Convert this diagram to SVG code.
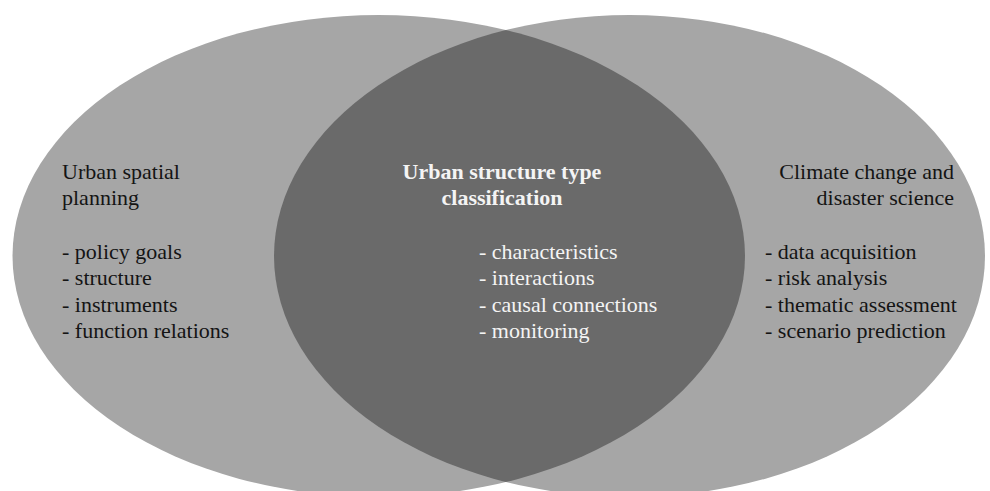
<svg xmlns="http://www.w3.org/2000/svg" width="990" height="491" viewBox="0 0 990 491">
  <style>
    .set { fill: #a6a6a6; }
    .lens { fill: #6a6a6a; }
    .t { font-family: "Liberation Serif", "Times New Roman", serif; font-size: 22px; fill: #141414; }
    .w { fill: #f4f4f4; }
    .b { font-weight: bold; }
  </style>
  <defs>
    <clipPath id="clipLeft">
      <ellipse cx="378.75" cy="256" rx="366.25" ry="241"/>
    </clipPath>
  </defs>
  <rect width="990" height="491" fill="#ffffff"/>
  <g id="left-set">
    <ellipse class="set" cx="378.75" cy="256" rx="366.25" ry="241"/>
  </g>
  <g id="right-set">
    <ellipse class="set" cx="629.5" cy="256" rx="355.5" ry="241"/>
  </g>
  <g id="overlap">
    <ellipse class="lens" cx="629.5" cy="256" rx="355.5" ry="241" clip-path="url(#clipLeft)"/>
  </g>
  <g id="connectors"></g>
  <g id="left-text">
    <text class="t" x="62" y="178.5">Urban spatial</text>
    <text class="t" x="62" y="205">planning</text>
    <text class="t" x="62" y="258.5">- policy goals</text>
    <text class="t" x="62" y="285">- structure</text>
    <text class="t" x="62" y="311.5">- instruments</text>
    <text class="t" x="62" y="338">- function relations</text>
  </g>
  <g id="center-text">
    <text class="t w b" x="502" y="178.5" text-anchor="middle">Urban structure type</text>
    <text class="t w b" x="502" y="205" text-anchor="middle">classification</text>
    <text class="t w" x="479" y="258.5">- characteristics</text>
    <text class="t w" x="479" y="285">- interactions</text>
    <text class="t w" x="479" y="311.5">- causal connections</text>
    <text class="t w" x="479" y="338">- monitoring</text>
  </g>
  <g id="right-text">
    <text class="t" x="954" y="178.5" text-anchor="end">Climate change and</text>
    <text class="t" x="954" y="205" text-anchor="end">disaster science</text>
    <text class="t" x="765" y="258.5">- data acquisition</text>
    <text class="t" x="765" y="285">- risk analysis</text>
    <text class="t" x="765" y="311.5">- thematic assessment</text>
    <text class="t" x="765" y="338">- scenario prediction</text>
  </g>
</svg>
